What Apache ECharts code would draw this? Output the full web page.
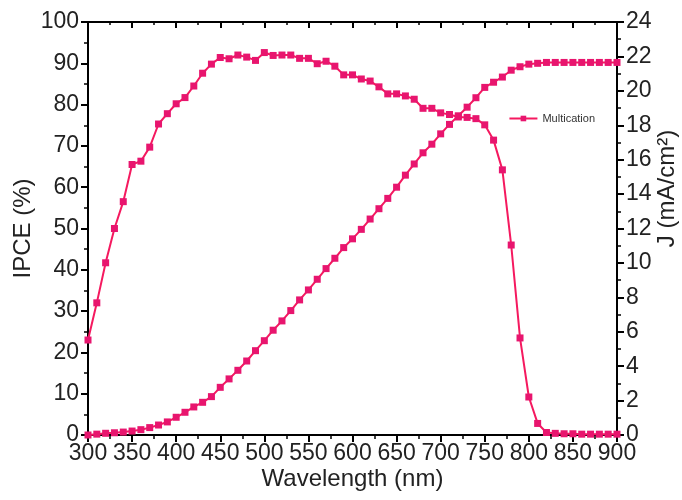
<!DOCTYPE html>
<html>
<head>
<meta charset="utf-8">
<script src="https://cdn.jsdelivr.net/npm/echarts@6/dist/echarts.min.js"></script>
<style>
  html, body { margin: 0; padding: 0; background: #fff; }
  #main { width: 682px; height: 500px; }
</style>
</head>
<body>
<div id="main"></div>
<script>
var wavelength = [300, 310, 320, 330, 340, 350, 360, 370, 380, 390,
  400, 410, 420, 430, 440, 450, 460, 470, 480, 490,
  500, 510, 520, 530, 540, 550, 560, 570, 580, 590,
  600, 610, 620, 630, 640, 650, 660, 670, 680, 690,
  700, 710, 720, 730, 740, 750, 760, 770, 780, 790,
  800, 810, 820, 830, 840, 850, 860, 870, 880, 890, 900];

var ipce = [23, 32, 41.7, 50, 56.5, 65.5, 66.3, 69.7, 75.3, 77.8,
  80.2, 81.7, 84.5, 87.6, 89.8, 91.4, 91.1, 92.0, 91.5, 90.7,
  92.6, 91.9, 92.0, 92.0, 91.2, 91.2, 89.9, 90.5, 89.3, 87.2,
  87.2, 86.2, 85.7, 84.3, 82.6, 82.6, 82.1, 81.3, 79.1, 79.1,
  78.0, 77.6, 77.0, 76.9, 76.6, 75.1, 71.4, 64.2, 46, 23.5,
  9.2, 2.8, 0.6, 0.4, 0.3, 0.3, 0.2, 0.2, 0.2, 0.2, 0.2];

var currentJ = [0, 0.05, 0.1, 0.13, 0.17, 0.23, 0.31, 0.43, 0.58, 0.76,
  1.03, 1.32, 1.63, 1.9, 2.23, 2.77, 3.26, 3.76, 4.3, 4.9,
  5.48, 6.09, 6.63, 7.23, 7.85, 8.43, 9.05, 9.67, 10.27, 10.89,
  11.4, 11.95, 12.55, 13.15, 13.75, 14.4, 15.1, 15.75, 16.4, 16.9,
  17.5, 18.05, 18.55, 19.05, 19.6, 20.2, 20.5, 20.8, 21.2, 21.4,
  21.55, 21.6, 21.65, 21.65, 21.65, 21.65, 21.65, 21.65, 21.65, 21.65, 21.65];

var legendNames = ['Multication'];

function pairs(ys) {
  return wavelength.map(function (w, i) { return [w, ys[i]]; });
}

var lineColor = '#f5195f';
var markColor = '#e8156e';
var font = 'Liberation Sans, Arial, sans-serif';

var chart = echarts.init(document.getElementById('main'), null, { renderer: 'canvas' });

var axisBase = {
  axisLine: { show: true, onZero: false, lineStyle: { color: '#000', width: 2 } },
  axisTick: { show: true, inside: false, length: 7, lineStyle: { color: '#000', width: 2 } },
  minorTick: { show: true, splitNumber: 2, length: 4, lineStyle: { color: '#000', width: 1.5 } },
  splitLine: { show: false },
  axisLabel: { color: '#222', fontSize: 23, fontFamily: font, margin: 9 },
  nameMoveOverlap: false,
  nameTextStyle: { color: '#222', fontSize: 24, fontFamily: font }
};

var option = {
  animation: false,
  backgroundColor: '#fff',
  grid: { left: 88, right: 65, top: 22, bottom: 65, containLabel: false, outerBoundsMode: 'none' },
  legend: {
    data: legendNames,
    right: 82,
    top: 108,
    itemWidth: 28,
    itemHeight: 7,
    textStyle: { fontSize: 11, fontFamily: font, color: '#333' }
  },
  xAxis: [
    Object.assign({}, axisBase, {
      type: 'value', min: 300, max: 900, interval: 50,
      axisLabel: { color: '#222', fontSize: 23, fontFamily: font, margin: 7 },
      name: 'Wavelength (nm)', nameLocation: 'middle', nameGap: 32
    }),
    Object.assign({}, axisBase, {
      type: 'value', position: 'top', min: 300, max: 900, interval: 50,
      axisTick: { show: true, inside: true, length: 6, lineStyle: { color: '#000', width: 2 } },
      minorTick: { show: true, splitNumber: 2, length: 3, lineStyle: { color: '#000', width: 1.5 } },
      axisLabel: { show: false }
    })
  ],
  yAxis: [
    Object.assign({}, axisBase, {
      type: 'value', min: 0, max: 100, interval: 10,
      name: 'IPCE (%)', nameLocation: 'middle', nameGap: 53
    }),
    Object.assign({}, axisBase, {
      type: 'value', position: 'right', min: 0, max: 24, interval: 2,
      name: 'J (mA/cm²)', nameLocation: 'middle', nameGap: 38,
      nameRotate: 90,
      nameTextStyle: { color: '#222', fontSize: 24, fontFamily: font, padding: [0, 0, 0, 80] }
    })
  ],
  series: [
    {
      name: 'Multication',
      type: 'line',
      yAxisIndex: 0,
      data: pairs(ipce),
      symbol: 'rect',
      symbolSize: 7,
      lineStyle: { color: lineColor, width: 2 },
      itemStyle: { color: markColor }
    },
    {
      name: 'J',
      type: 'line',
      yAxisIndex: 1,
      data: pairs(currentJ),
      symbol: 'rect',
      symbolSize: 7,
      lineStyle: { color: lineColor, width: 2 },
      itemStyle: { color: markColor }
    }
  ]
};

chart.setOption(option);
window.addEventListener('resize', chart.resize);
</script>
</body>
</html>
